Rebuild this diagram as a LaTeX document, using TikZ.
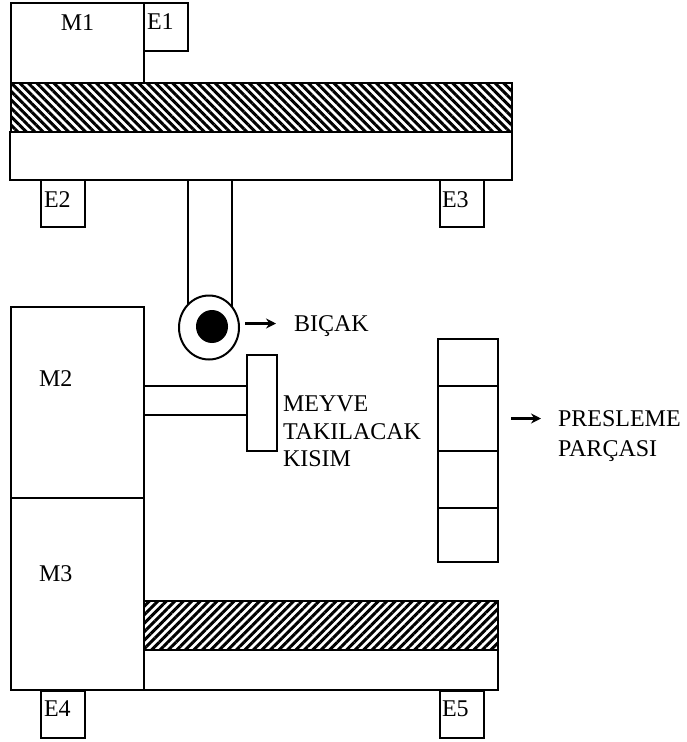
\documentclass[tikz,border=0pt]{standalone}
\usepackage{fontspec}
\setmainfont{Liberation Serif}
\usetikzlibrary{arrows.meta, calc, patterns.meta, shapes.geometric}

\begin{document}
\begin{tikzpicture}[x=1pt, y=-1pt,
  every node/.style={font=\fontsize{24}{27.5}\selectfont, inner sep=0pt, outer sep=0pt},
  part/.style={draw, line width=2pt, fill=white},
  sensor/.style={part, minimum width=44pt, minimum height=47pt},
  motor/.style={part, minimum width=133pt, minimum height=191.5pt},
  beltdown/.style={draw, line width=2pt, pattern={Lines[angle=-45, distance=6pt, line width=3pt]}},
  beltup/.style={draw, line width=2pt, pattern={Lines[angle=45, distance=6pt, line width=3pt]}},
  press/.style={part, minimum width=60pt},
  arrow/.style={-{Stealth[length=10pt, width=10pt]}, line width=2.2pt}
]
  \useasboundingbox (0,0) rectangle (686,742);

  % upper carriage
  \node[part, minimum width=133pt, minimum height=80pt] (m1) at (77.5,43) {};
  \node[sensor, minimum height=48pt] (e1) at (166,27) {};
  \node[beltdown, minimum width=501pt, minimum height=49pt] (belttop) at (261.5,107.5) {};
  \node[part, minimum width=502pt, minimum height=48pt] (railtop) at (261,156) {};
  \node[sensor] (e2) at (62.5,203.5) {};
  \node[sensor] (e3) at (462,203.5) {};
  \node[part, minimum width=44pt, minimum height=130pt] (arm) at (210,245) {};

  % knife
  \node[part, ellipse, minimum width=60pt, minimum height=64pt] (wheel) at (209,327.5) {};
  \node[ellipse, fill=black, minimum width=32pt, minimum height=33pt] (hub) at (212,326.5) {};

  % left column
  \node[motor] (m2) at (77.5,402.5) {};
  \node[motor] (m3) at (77.5,594) {};
  \node[part, line width=1.5pt, minimum width=104pt, minimum height=29pt] (rod) at (196,400.5) {};
  \node[part, minimum width=30pt, minimum height=96pt] (holder) at (262,403) {};

  % press stack
  \node[press, minimum height=47pt] (p1) at (468,362.5) {};
  \node[press, minimum height=65pt] (p2) at (468,418.5) {};
  \node[press, minimum height=57pt] (p3) at (468,479.5) {};
  \node[press, minimum height=54pt] (p4) at (468,535) {};

  % lower carriage
  \node[beltup, minimum width=354pt, minimum height=49pt] (beltbot) at (321,625.5) {};
  \node[part, minimum width=354pt, minimum height=40pt] (railbot) at (321,670) {};
  \node[sensor] (e4) at (62.5,714) {};
  \node[sensor] (e5) at (462,714) {};

  % labels
  \node (m1text) at (77.5,23) {M1};
  \node[anchor=west] (e1text) at (147,22) {E1};
  \node[anchor=west] (e2text) at (44,199.5) {E2};
  \node[anchor=west] (e3text) at (442,199.5) {E3};
  \node[anchor=west] (m2text) at (39,379) {M2};
  \node[anchor=west] (m3text) at (39,574) {M3};
  \node[anchor=west] (e4text) at (44,709) {E4};
  \node[anchor=west] (e5text) at (442,709) {E5};
  \node[anchor=west] (bicak) at (294,326) {BIÇAK};
  \node[anchor=west, align=left] (meyve) at (283,431.5) {MEYVE\\TAKILACAK\\KISIM};
  \node[anchor=west, align=left, font=\fontsize{24}{30}\selectfont] (parca) at (558,436) {PRESLEME\\PARÇASI};

  \draw[arrow, shorten <=6pt, shorten >=18pt] ($(wheel.east |- bicak.west)+(0,-2.5)$) -- ($(bicak.west)+(0,-2.5)$);
  \draw[arrow, shorten <=13pt, shorten >=17pt] (p2.east) -- (p2.east -| parca.west);
\end{tikzpicture}
\end{document}
